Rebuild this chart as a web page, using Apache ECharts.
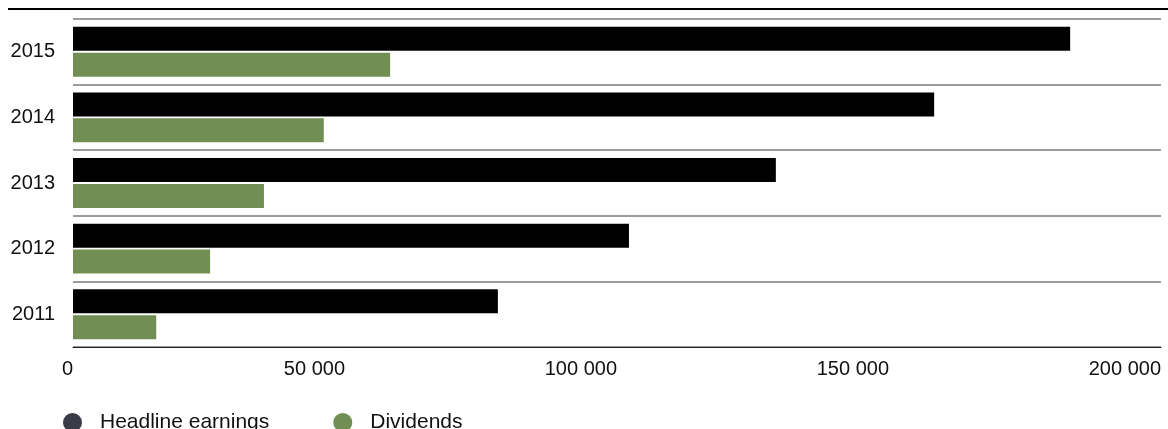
<!DOCTYPE html>
<html>
<head>
<meta charset="utf-8">
<script src="https://cdn.jsdelivr.net/npm/echarts@6/dist/echarts.min.js"></script>
<style>
  html, body { margin: 0; padding: 0; background: #fff; }
  #chart { width: 1168px; height: 429px; }
</style>
</head>
<body>
<div id="chart"></div>
<script>
// Headline earnings and dividends by year (R million)
const years = ['2011', '2012', '2013', '2014', '2015'];
const headlineEarnings = [78100, 102200, 129200, 158300, 183300];
const dividends = [15300, 25200, 35100, 46100, 58300];
const xTicks = { min: 0, max: 200000, interval: 50000 };

const FONT = '"Liberation Sans", Arial, Helvetica, sans-serif';

// Latest year is listed first (top row)
const rev = arr => arr.slice().reverse();

const chart = echarts.init(document.getElementById('chart'), null, { renderer: 'canvas' });

chart.setOption({
  animation: false,
  textStyle: { fontFamily: FONT },
  grid: { left: 73, right: 7, top: 19, bottom: 82, containLabel: false },
  graphic: [{
    type: 'line',
    shape: { x1: 8, y1: 9, x2: 1168, y2: 9 },
    style: { stroke: '#000', lineWidth: 2 }
  }],
  legend: {
    left: 63,
    top: 412,
    padding: 0,
    itemWidth: 19,
    itemHeight: 19,
    itemGap: 64,
    icon: 'circle',
    textStyle: { fontFamily: FONT, fontSize: 21, color: '#111', padding: [0, 0, 0, 13] },
    data: [
      { name: 'Headline earnings', itemStyle: { color: '#3b3b48' } },
      { name: 'Dividends', itemStyle: { color: '#718f53' } }
    ]
  },
  xAxis: {
    type: 'value',
    min: xTicks.min,
    max: xTicks.max,
    interval: xTicks.interval,
    axisLine: { show: true, lineStyle: { color: '#222', width: 1 } },
    axisTick: { show: false },
    splitLine: { show: false },
    axisLabel: {
      fontFamily: FONT,
      fontSize: 20,
      color: '#111',
      margin: 12,
      align: 'right',
      formatter: v => String(v).replace(/\B(?=(\d{3})+(?!\d))/g, ' ')
    }
  },
  yAxis: {
    type: 'category',
    data: rev(years),
    inverse: true,
    axisLine: { show: false },
    axisTick: { show: false },
    splitLine: { show: true, lineStyle: { color: '#7a7a7a', width: 1.5 } },
    axisLabel: { fontFamily: FONT, fontSize: 20, color: '#111', margin: 18 }
  },
  series: [
    {
      name: 'Headline earnings',
      type: 'bar',
      data: rev(headlineEarnings),
      barWidth: 24,
      barGap: '8%',
      barCategoryGap: '24%',
      itemStyle: { color: '#000' }
    },
    {
      name: 'Dividends',
      type: 'bar',
      data: rev(dividends),
      barWidth: 24,
      itemStyle: { color: '#718f53' }
    }
  ]
});
</script>
</body>
</html>
